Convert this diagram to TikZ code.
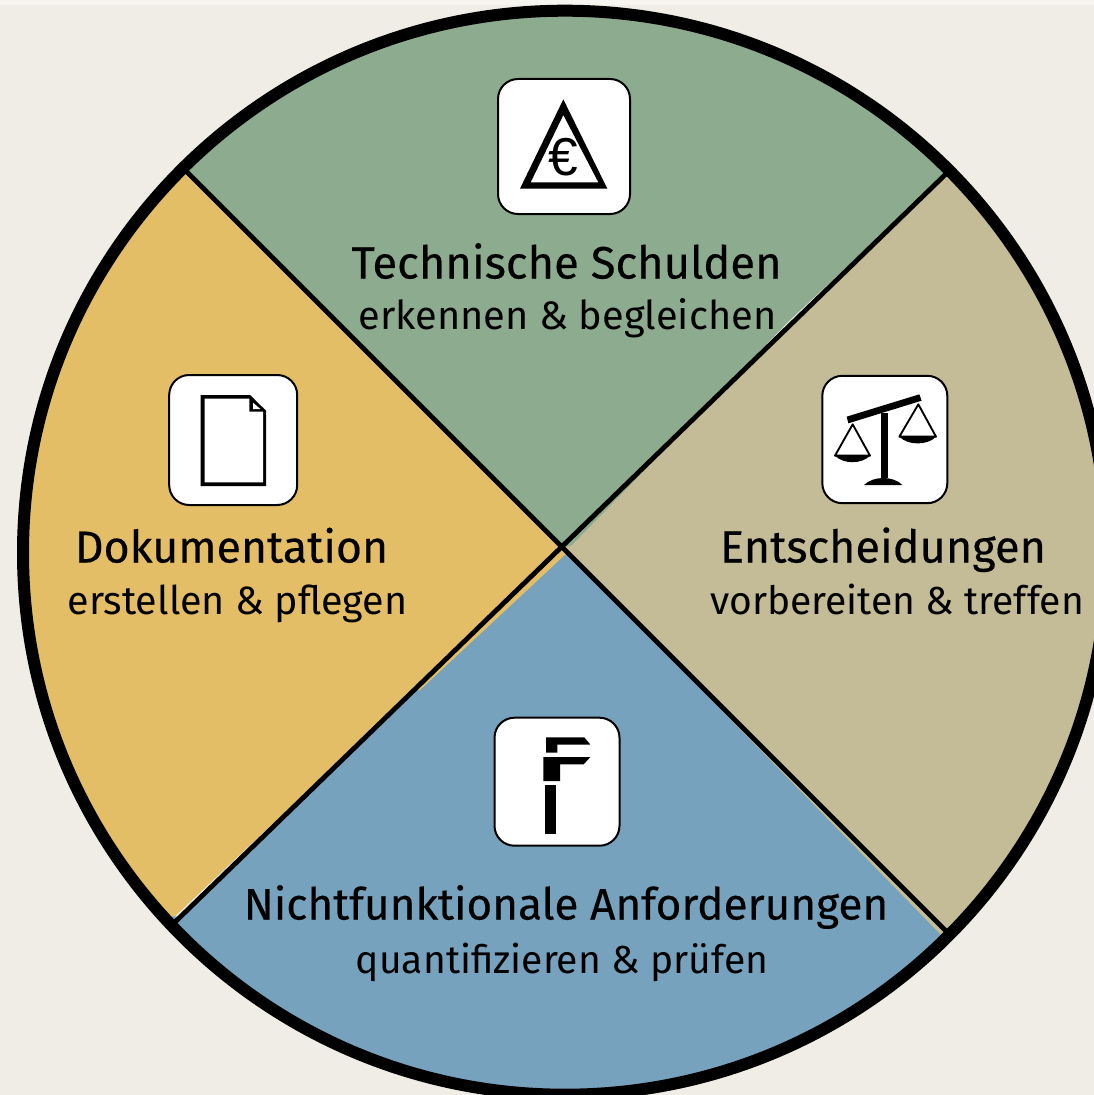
\documentclass[tikz,border=0pt]{standalone}
\usepackage{fontspec}
\setmainfont{Fira Sans}
\newfontfamily\titlefont[FakeBold=0.35]{Fira Sans}
\newfontfamily\eurofont{Liberation Sans}
\definecolor{bgc}{HTML}{EFEDE5}
\definecolor{topc}{HTML}{F6F5F0}
\definecolor{greenc}{HTML}{8DAB8F}
\definecolor{tanc}{HTML}{C4BC97}
\definecolor{bluec}{HTML}{77A2BD}
\definecolor{orangec}{HTML}{E4BE67}
\tikzset{
 iconbox/.style={draw=black,fill=white,line width=1.5pt,rounded corners=15pt,inner sep=0pt,minimum width=#1*0.75pt},
 titletext/.style={font=\titlefont\fontsize{#1}{36}\selectfont,inner sep=0pt,anchor=base},
 titletext/.default=33.6,
 subtext/.style={font=\fontsize{#1}{34}\selectfont,inner sep=0pt,anchor=base},
 subtext/.default=29.6,
 spoke/.style={draw=black,line width=3.6pt},
 zoomed/.style={x=0.25pt,y=-0.25pt},
}
\begin{document}
\begin{tikzpicture}[x=0.75pt,y=-0.75pt]
\useasboundingbox (0,0) rectangle (1094,1095);
\fill[bgc] (0,0) rectangle (1094,1095);
\fill[topc] (0,0) rectangle (1094,5.5);
\coordinate (c) at (563,548);
\coordinate (nw) at (181,166);
\coordinate (ne) at (950,170);
\coordinate (se) at (948,933);
\coordinate (sw) at (173,924);
\begin{scope}
\clip (565,552.7) circle[radius=540*0.75pt];
\fill[tanc] (c) -- (ne) -- (1200,170) -- (1200,1200) -- (700,1200) -- (700,800) -- cycle;
\fill[bluec] (c) -- (sw) -- (173,1200) -- (941,1200) -- (941,935) -- cycle;
\fill[orangec] (c) -- (nw) -- (-50,166) -- (-50,924) -- (170,921) -- cycle;
\fill[orangec] (c) -- (568,552) -- (420,690) -- (400,690) -- cycle;
\fill[greenc] (nw) -- (181,-50) -- (950,-50) -- (ne) -- (790,320) -- (572,545) -- (c) -- cycle;
\fill[bluec] (170,917) -- (180,916) -- (176,926) -- (170,926) -- cycle;
\end{scope}
\draw[spoke] (nw) -- (se);
\draw[spoke] (ne) -- (sw);
\draw[black,line width=9pt] (565,552.7) circle[radius=542*0.75pt];
% icon boxes
\node[iconbox=132,minimum height=101.25pt] (debt) at (564,146.5) {};
\node[iconbox=125,minimum height=95.5pt] (decide) at (884.8,439.5) {};
\node[iconbox=125,minimum height=96pt] (nfr) at (557,781.7) {};
\node[iconbox=128,minimum height=97.5pt] (doc) at (233.2,440) {};
% euro icon
\begin{scope}[shift={(480,60)},zoomed]
\fill[black,even odd rule] (250,118) -- (382,386) -- (120,386) -- cycle (250,165) -- (152,367) -- (355,367) -- cycle;
\end{scope}
\node[inner sep=0pt,font=\eurofont\fontsize{40}{40}\selectfont] (euro) at (563,157) {€};
% scales icon
\begin{scope}[shift={(810,365)},zoomed]
\fill[black] (110,155) -- (328,88) -- (335,107) -- (115,175) -- cycle;
\fill[black] (212,145) rectangle (235,340);
\fill[black] (162,360) .. controls (190,332) and (250,332) .. (277,360) -- cycle;
\draw[black,line width=1.4pt,line join=round] (128,178) -- (75,272) -- (180,272) -- cycle;
\fill[black] (75,272) .. controls (100,298) and (155,298) .. (180,272) -- cycle;
\draw[black,line width=1.4pt,line join=round] (325,118) -- (268,215) -- (378,215) -- cycle;
\fill[black] (268,215) .. controls (293,242) and (353,242) .. (378,215) -- cycle;
\end{scope}
% caliper icon
\begin{scope}[shift={(485,705)},zoomed]
\fill[black] (183,97) -- (298,97) -- (316,119) -- (217,119) -- (217,143) -- (183,143) -- cycle;
\fill[black] (175,156) -- (316,156) -- (296,178) -- (225,178) -- (225,228) -- (175,228) -- cycle;
\fill[black] (180,240) rectangle (213,386);
\end{scope}
% document icon
\begin{scope}[shift={(160,365)},zoomed]
\fill[black] (122,90) -- (270,90) -- (318,137) -- (318,363) -- (122,363) -- cycle;
\fill[white] (134,101) -- (268,101) -- (268,140) -- (309,140) -- (309,352) -- (134,352) -- cycle;
\fill[white] (279,113) -- (301,132) -- (279,132) -- cycle;
\end{scope}
% labels
\node[titletext=34] (t1) at (566.5,278.5) {Technische Schulden};
\node[subtext=29.8] (s1) at (567.5,329.5) {erkennen \& begleichen};
\node[titletext=33.5] (t2) at (231.5,562.5) {Dokumentation};
\node[subtext] (s2) at (237.5,614.5) {erstellen \& pflegen};
\node[titletext=33.8] (t3) at (883,562.5) {Entscheidungen};
\node[subtext=29.3] (s3) at (897,614.5) {vorbereiten \& treffen};
\node[titletext=33.1] (t4) at (566,919.5) {Nichtfunktionale Anforderungen};
\node[subtext=29.3] (s4) at (562,973.5) {quantifizieren \& prüfen};
\end{tikzpicture}
\end{document}
